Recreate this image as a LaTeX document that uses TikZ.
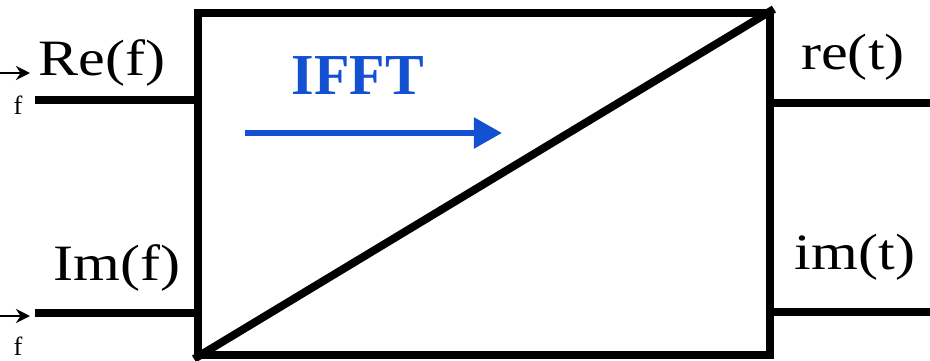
\documentclass[tikz,border=0pt]{standalone}
\usepackage{fontspec}
\setmainfont{Liberation Serif}
\newfontfamily\sigfont[FakeStretch=1.18]{Liberation Serif}
\usetikzlibrary{arrows.meta, positioning, calc}
\definecolor{ifftblue}{RGB}{20,80,210}

\begin{document}
\begin{tikzpicture}[
  x=0.02cm, y=0.02cm,
  >=Stealth,
  blockbox/.style={
    rectangle, draw=black, line width=4.5pt,
    minimum width=11.44cm, minimum height=6.84cm, inner sep=0pt
  },
  wire/.style={line width=4.5pt, black},
  axis/.style={line width=1.6pt, -{Stealth[length=8pt, width=8pt]}},
  siglabel/.style={font=\sigfont\fontsize{29}{31}\selectfont, inner sep=0pt},
  flabel/.style={font=\fontsize{15}{16}\selectfont, inner sep=0pt}
]
\useasboundingbox (0,0) rectangle (930,360);

% IFFT block
\node[blockbox] (ifft) at (484,176) {};
\draw[line width=4.5pt] (ifft.south west) -- (ifft.north east);

% Direction arrow
\coordinate (dirA) at (245,227);
\coordinate (dirB) at (502,227);
\draw[ifftblue, line width=3.4pt, -{Triangle[length=16pt, width=17pt]}] (dirA) -- (dirB);
\node[font=\fontsize{33}{36}\selectfont\bfseries, text=ifftblue, inner sep=0pt] (ifftlbl) at (358,284) {IFFT};

% Inputs
\coordinate (rein) at (35,260);
\coordinate (imin) at (35,47);
\draw[wire] (rein) -- (rein -| ifft.west);
\draw[wire] (imin) -- (imin -| ifft.west);
\node[siglabel] (relbl) at (102,297) {Re(f)};
\node[siglabel] (imlbl) at (117,92) {Im(f)};

% Outputs
\coordinate (reout) at (930,257);
\coordinate (imout) at (930,48);
\draw[wire] (reout -| ifft.east) -- (reout);
\draw[wire] (imout -| ifft.east) -- (imout);
\node[siglabel] (retlbl) at (853,303) {re(t)};
\node[siglabel] (imtlbl) at (855,103) {im(t)};

% Frequency axis marks
\coordinate (fa1) at (0,287);
\coordinate (fb1) at (30,287);
\coordinate (fa2) at (0,44);
\coordinate (fb2) at (30,44);
\draw[axis] (fa1) -- (fb1);
\draw[axis] (fa2) -- (fb2);
\node[flabel] (f1) at (18,255) {f};
\node[flabel] (f2) at (18,14) {f};

\end{tikzpicture}
\end{document}
